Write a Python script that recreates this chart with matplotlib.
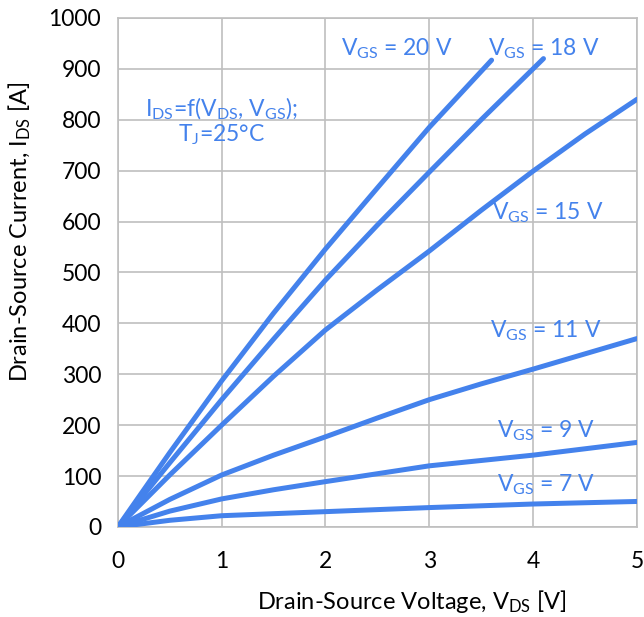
import matplotlib
matplotlib.use('Agg')
import matplotlib.pyplot as plt

plt.rcParams['font.family'] = ['Lato', 'DejaVu Sans']
plt.rcParams['mathtext.default'] = 'regular'

# output characteristics
vds_20 = [0, 0.5, 1, 1.5, 2, 2.5, 3, 3.6]
ids_20 = [0, 146, 287, 420, 546, 666, 785, 917]
vds_18 = [0, 0.5, 1, 1.5, 2, 2.5, 3, 3.5, 4.1]
ids_18 = [0, 126, 250, 369, 485, 593, 697, 800, 920]
vds_15 = [0, 0.5, 1, 1.5, 2, 2.5, 3, 3.5, 4, 4.5, 5]
ids_15 = [0, 102, 200, 296, 387, 466, 542, 622, 699, 772, 840]
vds_11 = [0, 0.5, 1, 1.5, 2, 2.5, 3, 3.5, 4, 4.5, 5]
ids_11 = [0, 54, 102, 141, 177, 214, 250, 281, 310, 340, 370]
vds_9 = [0, 0.5, 1, 1.5, 2, 3, 4, 5]
ids_9 = [0, 31, 55, 73, 89, 120, 141, 166]
vds_7 = [0, 0.5, 1, 2, 3, 4, 5]
ids_7 = [0, 13, 22, 30, 38, 45, 50]

curves = [(vds_20, ids_20), (vds_18, ids_18), (vds_15, ids_15),
          (vds_11, ids_11), (vds_9, ids_9), (vds_7, ids_7)]

# label text and anchor (left edge, centre) in data units
labels = ['$V_{GS}$ = 20 V', '$V_{GS}$ = 18 V', '$V_{GS}$ = 15 V',
          '$V_{GS}$ = 11 V', '$V_{GS}$ = 9 V', '$V_{GS}$ = 7 V']
label_x = [2.15, 3.57, 3.60, 3.58, 3.65, 3.65]
label_y = [940, 940, 617, 386, 190, 82]

blue = '#4482EC'
grey = '#BFBFBF'

fig = plt.figure(figsize=(6.44, 6.17), dpi=100)
ax = fig.add_axes([0.183, 0.146, 0.806, 0.825])

for v, i in curves:
    ax.plot(v, i, color=blue, lw=3.6, solid_capstyle='round', solid_joinstyle='round', zorder=3)

for t, x, y in zip(labels, label_x, label_y):
    ax.text(x, y, t, color=blue, fontsize=16.5, ha='left', va='center')

ax.text(1.0, 797, '$I_{DS}$=f($V_{DS}$, $V_{GS}$);\n$T_{J}$=25°C', color=blue,
        fontsize=16.5, ha='center', va='center', linespacing=1.05)

ax.set_xlim(0, 5)
ax.set_ylim(0, 1000)
ax.set_xticks(range(0, 6))
ax.set_yticks(range(0, 1001, 100))
ax.grid(True, color=grey, lw=1.2)
ax.set_axisbelow(True)
for s in ax.spines.values():
    s.set_color(grey)
    s.set_linewidth(1.2)
ax.tick_params(axis='both', colors=grey, labelcolor='black', labelsize=16.5, length=0)
ax.tick_params(axis='x', pad=17)
ax.tick_params(axis='y', pad=12)

ax.set_xlabel('Drain-Source Voltage, $V_{DS}$ [V]', fontsize=17)
ax.set_ylabel('Drain-Source Current, $I_{DS}$ [A]', fontsize=17)
# Excel put the axis titles a bit off-centre
ax.xaxis.set_label_coords(0.566, -0.12)
ax.yaxis.set_label_coords(-0.163, 0.58)

fig.savefig('out.png', dpi=100)
